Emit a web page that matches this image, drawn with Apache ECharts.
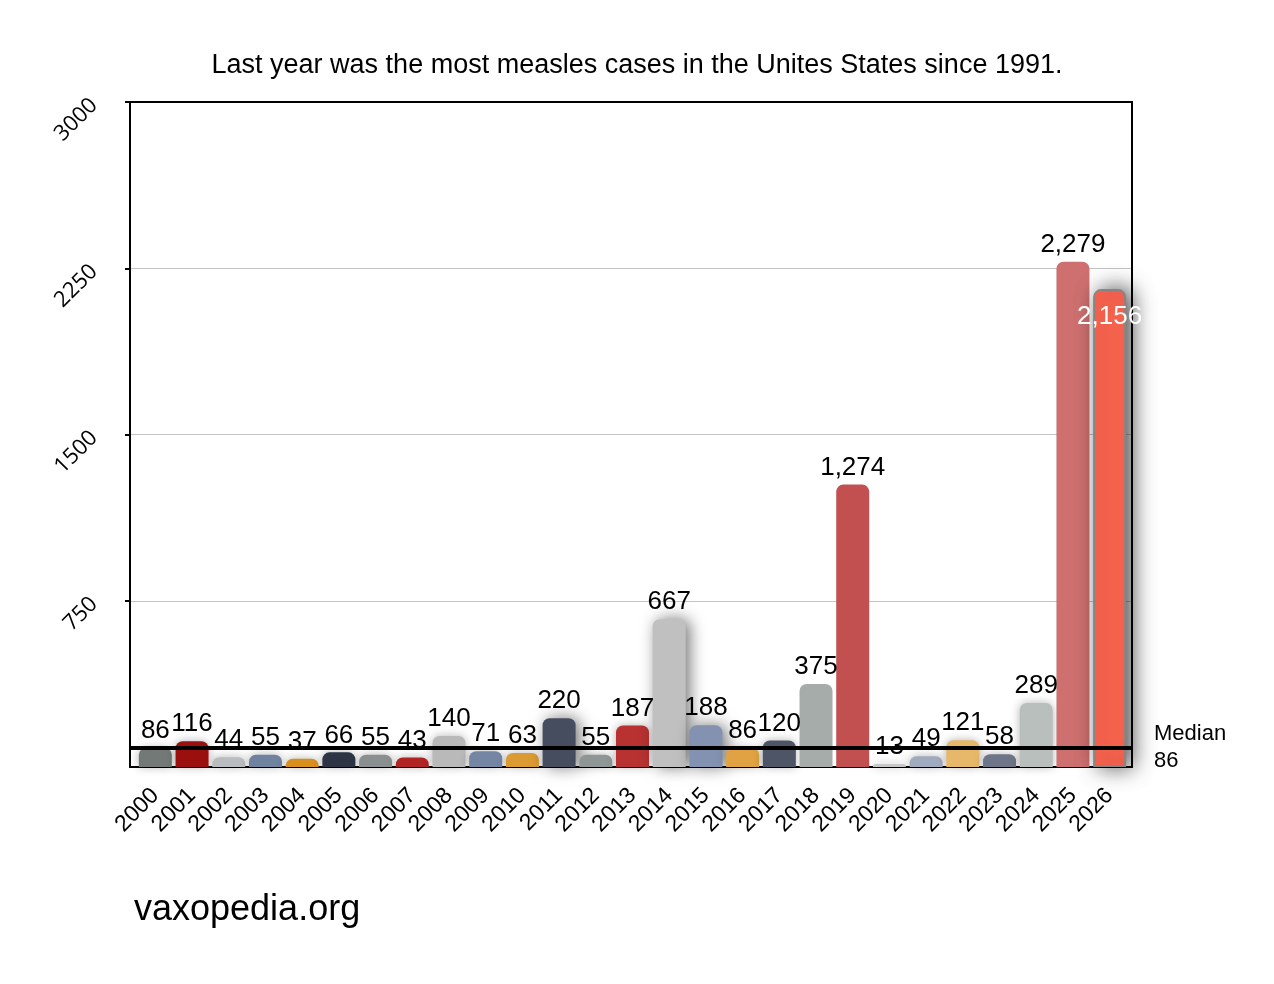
<!DOCTYPE html>
<html>
<head>
<meta charset="utf-8">
<title>Measles cases</title>
<script src="https://cdn.jsdelivr.net/npm/echarts@6/dist/echarts.min.js"></script>
<style>
  html, body { margin: 0; padding: 0; background: #fff; }
  #chart { width: 1274px; height: 984px; }
</style>
</head>
<body>
<div id="chart"></div>
<script>
// data
const years = ['2000', '2001', '2002', '2003', '2004', '2005', '2006', '2007', '2008', '2009',
  '2010', '2011', '2012', '2013', '2014', '2015', '2016', '2017', '2018', '2019',
  '2020', '2021', '2022', '2023', '2024', '2025', '2026']
const cases = [86, 116, 44, 55, 37, 66, 55, 43, 140, 71,
  63, 220, 55, 187, 667, 188, 86, 120, 375, 1274,
  13, 49, 121, 58, 289, 2279, 2156]
const median = 86
const yMax = 3000
const yStep = 750

// styling
const barColors = ['#737977', '#9c0f0f', '#b9bdbf', '#6f82a0', '#d88f1e', '#2d3545', '#8a908f', '#b22424', '#b9b9b9', '#7586a4',
  '#dc9b32', '#454d5f', '#8f9796', '#b83232', '#c0c0c0', '#8292b0', '#e0a242', '#4d5567', '#a6acaa', '#c25050',
  '#c8c8c8', '#a1abc0', '#e8b86a', '#6e7589', '#b9bfbd', '#cf7070', '#ff6650']
const strongShadow = { 11: 1, 14: 1, 15: 1 }
const noShadow = { 18: 1, 19: 1, 25: 1 }
const font = '"Liberation Sans", Arial, Helvetica, sans-serif'

const chart = echarts.init(document.getElementById('chart'))

const barData = cases.map((v, i) => {
  let style = {
    color: barColors[i],
    borderRadius: [7, 7, 0, 0],
    shadowColor: 'rgba(0,0,0,0.3)',
    shadowBlur: 10
  }
  if (strongShadow[i]) {
    style.shadowColor = 'rgba(0,0,0,0.55)'
    style.shadowBlur = 16
    style.shadowOffsetX = 4
  }
  if (noShadow[i]) {
    style.shadowBlur = 0
  }
  let item = { value: v, itemStyle: style }
  if (i === cases.length - 1) {
    // last bar: outlined and lifted, with its value inside
    style.borderColor = '#858585'
    style.borderWidth = 2
    style.shadowColor = 'rgba(0,0,0,0.7)'
    style.shadowBlur = 22
    style.shadowOffsetX = 6
    item.label = { position: 'insideTop', distance: 15, color: '#fff' }
  }
  return item
})

const frameLine = { show: true, onZero: false, lineStyle: { color: '#000', width: 2 } }

const option = {
  animation: false,
  backgroundColor: '#fff',
  title: [
    {
      text: 'Last year was the most measles cases in the Unites States since 1991.',
      left: 'center',
      top: 47,
      textStyle: { fontFamily: font, fontSize: 27, fontWeight: 'normal', color: '#000' }
    },
    {
      text: 'vaxopedia.org',
      left: 129,
      top: 887,
      textStyle: { fontFamily: font, fontSize: 36, fontWeight: 'normal', color: '#000' }
    }
  ],
  grid: [
    { left: 137, right: 146, top: 102, bottom: 217 },
    { left: 130, right: 142, top: 102, bottom: 217 }
  ],
  xAxis: [
    {
      type: 'category',
      gridIndex: 0,
      data: years,
      axisLine: { show: false },
      axisTick: { show: false },
      axisLabel: {
        rotate: 45,
        margin: 25,
        interval: 0,
        fontFamily: font,
        fontSize: 23,
        color: '#000'
      }
    },
    {
      type: 'value', gridIndex: 1, min: 0, max: 1, position: 'bottom',
      axisLine: frameLine,
      axisTick: { show: false }, axisLabel: { show: false }, splitLine: { show: false }
    },
    {
      type: 'value', gridIndex: 1, min: 0, max: 1, position: 'top',
      axisLine: frameLine,
      axisTick: { show: false }, axisLabel: { show: false }, splitLine: { show: false }
    }
  ],
  yAxis: [
    { type: 'value', gridIndex: 0, min: 0, max: yMax, show: false },
    {
      type: 'value', gridIndex: 1, min: 0, max: yMax, interval: yStep, position: 'left',
      axisLine: frameLine,
      axisTick: { show: true, length: 5, lineStyle: { color: '#000', width: 2 } },
      axisLabel: {
        rotate: 45,
        margin: 36,
        showMinLabel: false,
        fontFamily: '"Open Sans", sans-serif',
        fontSize: 22,
        color: '#000',
        formatter: (v) => String(v)
      },
      splitLine: { show: true, lineStyle: { color: '#c4c4c4', width: 1 } }
    },
    {
      type: 'value', gridIndex: 1, min: 0, max: yMax, position: 'right',
      axisLine: frameLine,
      axisTick: { show: false }, axisLabel: { show: false }, splitLine: { show: false }
    }
  ],
  series: [
    {
      // keeps the top/right frame axes alive
      type: 'line',
      xAxisIndex: 2,
      yAxisIndex: 2,
      data: []
    },
    {
      type: 'line',
      xAxisIndex: 1,
      yAxisIndex: 1,
      data: [],
      markLine: {
        silent: true,
        symbol: 'none',
        z: 5,
        lineStyle: { color: '#000', width: 4, type: 'solid' },
        label: {
          position: 'end',
          distance: 22,
          formatter: 'Median\n' + median,
          fontFamily: font,
          fontSize: 22,
          lineHeight: 27,
          align: 'left',
          color: '#000'
        },
        data: [{ yAxis: median }]
      }
    },
    {
      type: 'bar',
      xAxisIndex: 0,
      yAxisIndex: 0,
      barWidth: 33,
      data: barData,
      label: {
        show: true,
        position: 'top',
        distance: 4,
        fontFamily: font,
        fontSize: 26,
        color: '#000',
        formatter: (p) => p.value.toLocaleString('en-US')
      }
    }
  ]
}

chart.setOption(option)
</script>
</body>
</html>
